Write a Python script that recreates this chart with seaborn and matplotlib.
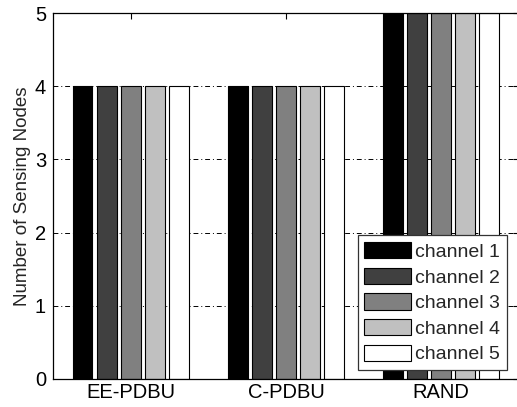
"""Grouped bar chart: sensing nodes per channel for each scheme."""

import pandas as pd
import matplotlib
matplotlib.use("Agg")
import matplotlib.pyplot as plt
import seaborn as sns

schemes = ["EE-PDBU", "C-PDBU", "RAND"]
channels = ["channel 1", "channel 2", "channel 3", "channel 4", "channel 5"]
ch1 = [4, 4, 5]
ch2 = [4, 4, 5]
ch3 = [4, 4, 5]
ch4 = [4, 4, 5]
ch5 = [4, 4, 5]
grays = ["#000000", "#404040", "#808080", "#c0c0c0", "#ffffff"]

rows = []
for name, vals in zip(channels, [ch1, ch2, ch3, ch4, ch5]):
    for s, v in zip(schemes, vals):
        rows.append({"scheme": s, "channel": name, "nodes": v})
df = pd.DataFrame(rows)

sns.set_style("white")
plt.rcParams["font.family"] = ["Liberation Sans", "DejaVu Sans"]

fig = plt.figure(figsize=(5.17, 4.07), dpi=100)
ax = fig.add_axes([0.1025, 0.069, 0.901, 0.899])

sns.barplot(data=df, x="scheme", y="nodes", hue="channel", order=schemes,
            hue_order=channels, palette=grays, width=0.775, gap=0.17,
            edgecolor="black", linewidth=0.8, saturation=1, ax=ax)

ax.set_xlim(-0.5, 2.5)
ax.set_ylim(0, 5)
ax.set_yticks([0, 1, 2, 3, 4, 5])
ax.set_xlabel("")
ax.set_ylabel("Number of Sensing Nodes", fontsize=13.5, labelpad=3)
ax.tick_params(direction="in", top=True, right=True, labelsize=14.5,
               length=4, width=0.8, colors="black")
ax.tick_params(axis="x", pad=3)
ax.tick_params(axis="y", pad=5)
for sp in ax.spines.values():
    sp.set_color("black")
    sp.set_linewidth(0.9)

ax.yaxis.grid(True, linestyle=(0, (5, 3, 1, 3)), color="black", linewidth=0.7)
ax.set_axisbelow(True)

handles, labels = ax.get_legend_handles_labels()
leg = ax.legend(handles, labels, loc="lower right", bbox_to_anchor=(0.999, -0.008),
                fontsize=14, frameon=True, fancybox=False, framealpha=1,
                edgecolor="#333333", handlelength=2.4, handleheight=0.9,
                handletextpad=0.2, labelspacing=0.35, borderpad=0.35,
                borderaxespad=0.6)
leg.get_frame().set_linewidth(0.9)

fig.savefig("out.png", dpi=100, facecolor="white")
